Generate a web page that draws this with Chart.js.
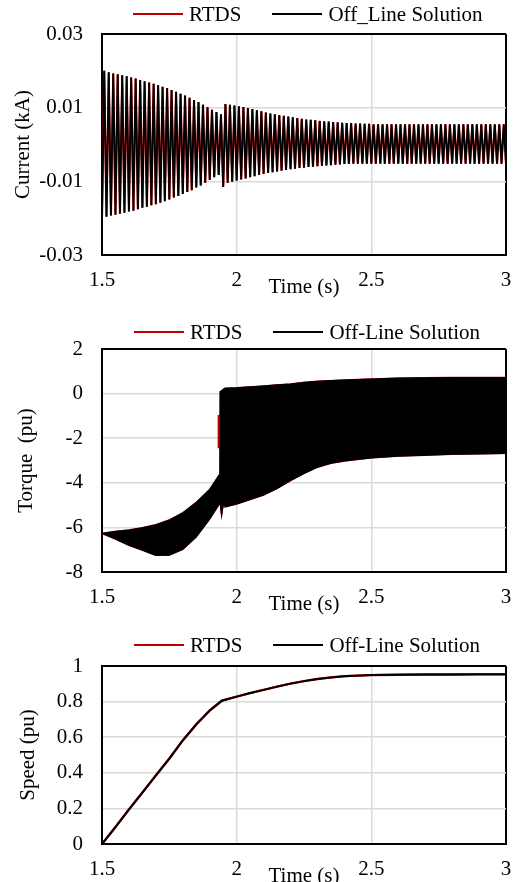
<!DOCTYPE html>
<html>
<head>
<meta charset="utf-8">
<title>RTDS vs Off-Line Solution</title>
<script src="https://cdn.jsdelivr.net/npm/chart.js@4.4.0/dist/chart.umd.min.js"></script>
<style>
  html, body { margin: 0; padding: 0; background: #fff; overflow: hidden; }
  body { width: 532px; height: 882px; position: relative; font-family: "Liberation Serif", "Times New Roman", serif; }
  canvas { position: absolute; left: 0; }
  .legend { position: absolute; z-index: 2; display: flex; align-items: center; font-size: 21px; line-height: 24px; color: #000; white-space: nowrap; }
  .legend .swatch { display: inline-block; width: 50px; height: 2px; margin-right: 6px; }
  .legend .gap { display: inline-block; width: 31px; }
</style>
</head>
<body>

<canvas id="chartCurrent" width="532" height="300" style="top:0"></canvas>
<canvas id="chartTorque" width="532" height="324" style="top:293px"></canvas>
<canvas id="chartSpeed" width="532" height="279" style="top:610px"></canvas>

<div class="legend" style="left:133px;top:2px"><span class="swatch" style="background:#c00000"></span>RTDS<span class="gap"></span><span class="swatch" style="background:#000"></span>Off_Line Solution</div>
<div class="legend" style="left:134px;top:320px"><span class="swatch" style="background:#c00000"></span>RTDS<span class="gap"></span><span class="swatch" style="background:#000"></span>Off-Line Solution</div>
<div class="legend" style="left:134px;top:633px"><span class="swatch" style="background:#c00000"></span>RTDS<span class="gap"></span><span class="swatch" style="background:#000"></span>Off-Line Solution</div>

<script>
/*******************************************************************************/
// Datos

const xTicks = [1.5, 2, 2.5, 3];
const currentTicks = [-0.03, -0.01, 0.01, 0.03];
const torqueTicks = [-8, -6, -4, -2, 0, 2];
const speedTicks = [0, 0.2, 0.4, 0.6, 0.8, 1];

// corriente: instantes de los picos (alternando valle / cresta)
const currentTime = [
    1.5, 1.5083, 1.5167, 1.525, 1.5333, 1.5417, 1.55, 1.5583, 1.5667, 1.575, 1.5833, 1.5917,
    1.6, 1.6083, 1.6167, 1.625, 1.6333, 1.6417, 1.65, 1.6583, 1.6667, 1.675, 1.6833, 1.6917,
    1.7, 1.7083, 1.7167, 1.725, 1.7333, 1.7417, 1.75, 1.7583, 1.7667, 1.775, 1.7833, 1.7917,
    1.8, 1.8083, 1.8167, 1.825, 1.8333, 1.8417, 1.85, 1.8583, 1.8667, 1.875, 1.8833, 1.8917,
    1.9, 1.9083, 1.9167, 1.925, 1.9333, 1.9417, 1.95, 1.9583, 1.9667, 1.975, 1.9833, 1.9917,
    2.0, 2.0083, 2.0167, 2.025, 2.0333, 2.0417, 2.05, 2.0583, 2.0667, 2.075, 2.0833, 2.0917,
    2.1, 2.1083, 2.1167, 2.125, 2.1333, 2.1417, 2.15, 2.1583, 2.1667, 2.175, 2.1833, 2.1917,
    2.2, 2.2083, 2.2167, 2.225, 2.2333, 2.2417, 2.25, 2.2583, 2.2667, 2.275, 2.2833, 2.2917,
    2.3, 2.3083, 2.3167, 2.325, 2.3333, 2.3417, 2.35, 2.3583, 2.3667, 2.375, 2.3833, 2.3917,
    2.4, 2.4083, 2.4167, 2.425, 2.4333, 2.4417, 2.45, 2.4583, 2.4667, 2.475, 2.4833, 2.4917,
    2.5, 2.5083, 2.5167, 2.525, 2.5333, 2.5417, 2.55, 2.5583, 2.5667, 2.575, 2.5833, 2.5917,
    2.6, 2.6083, 2.6167, 2.625, 2.6333, 2.6417, 2.65, 2.6583, 2.6667, 2.675, 2.6833, 2.6917,
    2.7, 2.7083, 2.7167, 2.725, 2.7333, 2.7417, 2.75, 2.7583, 2.7667, 2.775, 2.7833, 2.7917,
    2.8, 2.8083, 2.8167, 2.825, 2.8333, 2.8417, 2.85, 2.8583, 2.8667, 2.875, 2.8833, 2.8917,
    2.9, 2.9083, 2.9167, 2.925, 2.9333, 2.9417, 2.95, 2.9583, 2.9667, 2.975, 2.9833, 2.9917,
    3.0
];

// valles de la corriente (kA)
const currentLower = [
    -0.0200, -0.0196, -0.0193, -0.0191, -0.0188, -0.0185, -0.0182, -0.0180, -0.0176, -0.0172,
    -0.0169, -0.0165, -0.0162, -0.0158, -0.0154, -0.0149, -0.0144, -0.0140, -0.0134, -0.0129,
    -0.0124, -0.0117, -0.0111, -0.0104, -0.0096, -0.0089, -0.0083,
    -0.0115, -0.0104, -0.0101, -0.0098, -0.0095, -0.0092, -0.0089, -0.0086, -0.0083, -0.0080,
    -0.0077, -0.0075, -0.0073, -0.0071, -0.0069, -0.0067, -0.0066, -0.0064, -0.0063, -0.0061,
    -0.0060, -0.0059, -0.0058, -0.0057, -0.0056, -0.0055, -0.0054, -0.0053, -0.0053, -0.0052,
    -0.0052, -0.0052, -0.0052, -0.0052,
    -0.0052, -0.0052, -0.0052, -0.0052, -0.0052, -0.0052, -0.0052, -0.0052, -0.0052, -0.0052,
    -0.0052, -0.0052, -0.0052, -0.0052, -0.0052, -0.0052, -0.0052, -0.0052, -0.0052, -0.0052,
    -0.0052, -0.0052, -0.0052, -0.0052, -0.0052, -0.0052, -0.0052, -0.0052, -0.0052, -0.0052
];

// crestas de la corriente (kA)
const currentUpper = [
    0.0200, 0.0196, 0.0193, 0.0191, 0.0188, 0.0185, 0.0182, 0.0179, 0.0175, 0.0172,
    0.0168, 0.0165, 0.0161, 0.0157, 0.0153, 0.0148, 0.0143, 0.0138, 0.0133, 0.0127,
    0.0121, 0.0115, 0.0108, 0.0101, 0.0094, 0.0088, 0.0082,
    0.0110, 0.0108, 0.0106, 0.0104, 0.0102, 0.0099, 0.0096, 0.0093, 0.0090, 0.0087,
    0.0084, 0.0082, 0.0080, 0.0078, 0.0076, 0.0074, 0.0072, 0.0070, 0.0068, 0.0067,
    0.0066, 0.0064, 0.0063, 0.0062, 0.0061, 0.0060, 0.0059, 0.0058, 0.0058, 0.0057,
    0.0057, 0.0056, 0.0056,
    0.0055, 0.0055, 0.0055, 0.0055, 0.0055, 0.0055, 0.0055, 0.0055, 0.0055, 0.0055,
    0.0055, 0.0055, 0.0055, 0.0055, 0.0055, 0.0055, 0.0055, 0.0055, 0.0055, 0.0055,
    0.0055, 0.0055, 0.0055, 0.0055, 0.0055, 0.0055, 0.0055, 0.0055, 0.0055, 0.0055
];

// par: envolvente de la oscilacion (pu)
const torqueTime = [1.5, 1.55, 1.6, 1.65, 1.7, 1.75, 1.8, 1.85, 1.9, 1.938, 1.939, 1.944, 1.95, 1.957,
    2.0, 2.05, 2.1, 2.15, 2.2, 2.25, 2.3, 2.35, 2.4, 2.5, 2.6, 2.7, 2.8, 2.9, 3.0];
const torqueUpper = [-6.27, -6.18, -6.12, -6.02, -5.88, -5.67, -5.35, -4.88, -4.3, -3.6, 0.09, 0.12, 0.18, 0.24,
    0.26, 0.3, 0.34, 0.39, 0.43, 0.5, 0.55, 0.58, 0.61, 0.65, 0.69, 0.71, 0.72, 0.72, 0.72];
const torqueLower = [-6.27, -6.52, -6.8, -7.02, -7.25, -7.24, -6.98, -6.42, -5.62, -4.9, -4.9, -5.44, -4.98, -5.08,
    -4.95, -4.75, -4.55, -4.25, -3.9, -3.58, -3.3, -3.12, -3.02, -2.88, -2.8, -2.76, -2.72, -2.7, -2.68];

// salto del RTDS que queda fuera de la banda
const rtdsJumpTime = [1.933, 1.933];
const rtdsJumpTorque = [-2.45, -0.96];

// velocidad (pu)
const speedTime = [1.5, 1.55, 1.6, 1.65, 1.7, 1.75, 1.8, 1.85, 1.9, 1.945, 2.0, 2.05, 2.1, 2.15,
    2.2, 2.25, 2.3, 2.35, 2.4, 2.5, 2.6, 2.7, 2.8, 2.9, 3.0];
const speedValue = [0, 0.095, 0.194, 0.289, 0.385, 0.48, 0.582, 0.672, 0.75, 0.805, 0.828, 0.848, 0.866, 0.884,
    0.901, 0.915, 0.927, 0.936, 0.943, 0.949, 0.951, 0.952, 0.952, 0.953, 0.953];

/*******************************************************************************/
// Estilo

const RED = "#c00000";
const BLACK = "#000000";
const GRID = "#d9d9d9";

Chart.defaults.font.family = '"Liberation Serif", "Times New Roman", serif';
Chart.defaults.font.size = 21;
Chart.defaults.color = "#000";

function puntos(tiempos, valores) {
    return tiempos.map((t, i) => ({ x: t, y: valores[i] }));
}

function esBorde(ctx) {
    return ctx.index === 0 || ctx.index === ctx.scale.ticks.length - 1;
}

function opciones(yTicks, yTitulo, yTituloPad, arriba) {
    return {
        responsive: false,
        animation: false,
        layout: { padding: { top: arriba, right: 26, left: 0, bottom: 0 } },
        plugins: { legend: { display: false }, tooltip: { enabled: false } },
        elements: { point: { radius: 0 }, line: { tension: 0 } },
        scales: {
            x: {
                type: "linear",
                min: xTicks[0],
                max: xTicks[xTicks.length - 1],
                afterBuildTicks: (s) => { s.ticks = xTicks.map((v) => ({ value: v })); },
                afterFit: (s) => { s.height = 45; },
                ticks: { padding: 13, maxRotation: 0, autoSkip: false, callback: (v) => String(v) },
                grid: {
                    color: (c) => (esBorde(c) ? BLACK : GRID),
                    lineWidth: (c) => (esBorde(c) ? 2 : 1.5),
                    drawTicks: false
                },
                border: { color: BLACK, width: 2 },
                title: { display: true, text: "Time (s)", padding: { top: 0, bottom: 0 } }
            },
            y: {
                type: "linear",
                min: yTicks[0],
                max: yTicks[yTicks.length - 1],
                afterBuildTicks: (s) => { s.ticks = yTicks.map((v) => ({ value: v })); },
                afterFit: (s) => { s.width = 102; },
                ticks: { padding: 19, autoSkip: false, callback: (v) => String(v) },
                grid: {
                    color: (c) => (esBorde(c) ? BLACK : GRID),
                    lineWidth: (c) => (esBorde(c) ? 2 : 1.5),
                    drawTicks: false
                },
                border: { color: BLACK, width: 2 },
                title: { display: true, text: yTitulo, padding: { top: yTituloPad, bottom: 0 } }
            }
        }
    };
}

/*******************************************************************************/
// Corriente

const currentPoints = currentTime.map((t, i) => ({
    x: t,
    y: i % 2 ? currentUpper[(i - 1) / 2] : currentLower[i / 2]
}));

new Chart(document.getElementById("chartCurrent"), {
    type: "line",
    data: {
        datasets: [
            { label: "Off_Line Solution", data: currentPoints, borderColor: BLACK, borderWidth: 1.8 },
            { label: "RTDS", data: currentPoints, borderColor: RED, borderWidth: 2.1 }
        ]
    },
    options: opciones(currentTicks, "Current (kA)", 11, 34)
});

/*******************************************************************************/
// Par

new Chart(document.getElementById("chartTorque"), {
    type: "line",
    data: {
        datasets: [
            { label: "Off-Line Solution", data: puntos(torqueTime, torqueUpper), borderColor: BLACK, borderWidth: 1.2, fill: false },
            { label: "Off-Line Solution (env)", data: puntos(torqueTime, torqueLower), borderColor: BLACK, borderWidth: 1.2,
              backgroundColor: BLACK, fill: "-1" },
            { label: "RTDS", data: puntos(torqueTime, torqueUpper), borderColor: RED, borderWidth: 1.5, fill: false },
            { label: "RTDS (env)", data: puntos(torqueTime, torqueLower), borderColor: RED, borderWidth: 1.5, fill: false },
            { label: "RTDS (jump)", data: puntos(rtdsJumpTime, rtdsJumpTorque), borderColor: RED, borderWidth: 2, fill: false }
        ]
    },
    options: opciones(torqueTicks, "Torque  (pu)", 14, 56)
});

/*******************************************************************************/
// Velocidad

new Chart(document.getElementById("chartSpeed"), {
    type: "line",
    data: {
        datasets: [
            { label: "Off-Line Solution", data: puntos(speedTime, speedValue), borderColor: BLACK, borderWidth: 2 },
            { label: "RTDS", data: puntos(speedTime, speedValue), borderColor: RED, borderWidth: 2.4 }
        ]
    },
    options: opciones(speedTicks, "Speed (pu)", 16, 56)
});
</script>
</body>
</html>
